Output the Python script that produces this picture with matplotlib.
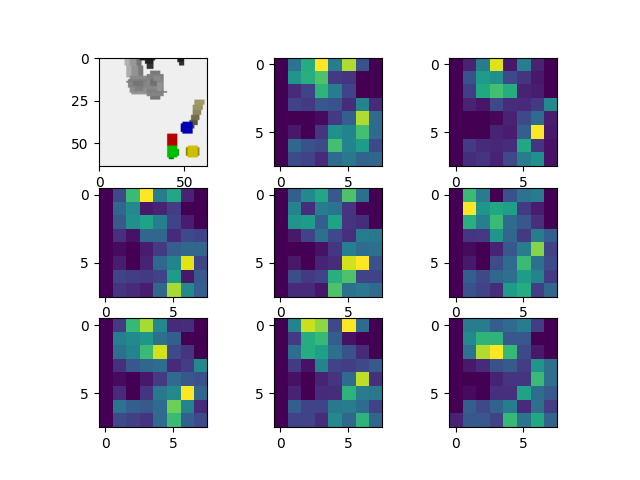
import numpy as np
import matplotlib
matplotlib.use("Agg")
import matplotlib.pyplot as plt

background = 0.94
# scene patches: row_start, row_end, col_start, col_end, (r, g, b)
g = lambda v: (v, v, v)
scene_patches = [
    # arm
    (0, 5, 15, 18, g(.70)), (0, 5, 18, 22, g(.60)), (0, 5, 22, 25, g(.46)),
    (5, 12, 16, 19, g(.68)), (5, 12, 19, 23, g(.58)), (5, 12, 23, 26, g(.48)),
    # first blob
    (11, 13, 18, 29, g(.54)), (13, 14, 17, 29, g(.50)), (14, 15, 16, 29, g(.50)),
    (15, 18, 17, 29, g(.52)), (18, 21, 18, 29, g(.56)), (21, 22, 19, 28, g(.60)),
    (14, 17, 20, 26, g(.46)), (17, 20, 21, 26, g(.50)),
    # second blob
    (8, 10, 30, 36, g(.48)), (10, 13, 28, 38, g(.50)), (13, 19, 28, 38, g(.53)),
    (19, 21, 28, 38, g(.50)), (20, 21, 38, 40, g(.50)), (21, 23, 28, 38, g(.52)),
    (23, 25, 30, 36, g(.46)),
    (13, 17, 30, 34, g(.44)), (15, 20, 34, 37, g(.58)), (11, 14, 32, 36, g(.54)),
    # dark objects
    (0, 2, 24, 33, g(.12)), (2, 4, 27, 32, g(.13)), (4, 7, 28, 32, g(.20)),
    (0, 3, 46, 50, g(.12)), (3, 5, 47, 50, g(.18)),
    # olive stick
    (25, 28, 56, 62, (.62, .60, .42)), (28, 31, 55, 61, (.60, .58, .40)),
    (31, 34, 55, 60, (.55, .53, .37)), (34, 37, 54, 59, (.45, .43, .30)),
    (37, 40, 53, 58, (.36, .34, .24)), (40, 42, 53, 56, (.30, .28, .20)),
    # blue cube
    (38, 45, 49, 55, (0, 0, .72)), (39, 44, 48, 49, (0, 0, .55)),
    # red cube
    (45, 52, 40, 46, (.72, 0, 0)),
    # green cube
    (52, 59, 40, 46, (0, .75, 0)), (54, 58, 46, 47, (0, .65, 0)),
    (59, 60, 41, 44, (0, .5, 0)),
    # yellow cube
    (52, 59, 52, 58, (.80, .75, 0)), (53, 58, 51, 52, (.55, .5, 0)),
    (53, 58, 58, 59, (.6, .55, .1)),
]

panel_1 = [[0, .38, .62, 1, .42, .88, .25, 0], [0, .52, .63, .72, .17, .15, 0, 0],
           [0, .12, .2, .65, .42, .2, 0, 0], [0, .2, .17, .27, .25, .13, .45, .12],
           [0, 0, 0, .03, .17, .3, .88, .35], [0, .07, 0, .15, .5, .45, .7, .35],
           [0, .33, .25, .22, .7, .45, .55, .22], [0, .23, .2, .12, .35, .4, .32, .33]]
panel_2 = [[0, .1, .42, .95, .07, .43, .1, 0], [0, .25, .55, .5, .22, .15, .07, 0],
           [0, .18, .6, .7, .62, .1, .08, 0], [0, .1, .06, .22, .13, .12, .17, .48],
           [0, 0, 0, .02, .1, .22, .35, .08], [0, 0, 0, .1, .08, .3, 1, .07],
           [0, .17, .12, .11, .13, .6, .15, .05], [0, .13, .15, .1, .22, .42, .5, .05]]
panel_3 = [[0, .22, .68, 1, .42, .6, .1, 0], [0, .33, .47, .07, .1, .18, 0, 0],
           [0, .28, .5, .58, .43, .2, .08, 0], [0, .14, .05, .33, .33, .12, .22, .2],
           [0, .03, 0, .08, .17, .3, .33, .33], [0, .08, 0, .1, .33, .45, .96, .2],
           [0, .2, .18, .17, .2, .55, .07, .28], [0, .15, .12, .08, .33, .87, .47, .3]]
panel_4 = [[0, .3, .47, .6, .28, .72, .37, 0], [0, .45, .13, .42, .38, .15, .01, 0],
           [0, .52, .55, .3, .58, .15, .13, 0], [0, .07, .2, .37, .22, .14, .42, .4],
           [0, 0, 0, .05, .16, .43, .35, .37], [0, .07, 0, .1, .13, .93, 1, .25],
           [0, .24, .17, .2, .63, .72, .2, .2], [0, .12, .12, .06, .72, .37, .4, .35]]
panel_5 = [[0, .68, .42, 0, .25, .38, .42, 0], [0, 1, .52, .6, .57, .17, .08, 0],
           [0, .63, .43, .68, .35, .27, .14, 0], [0, .16, .17, .52, .33, .17, .42, .3],
           [0, .03, 0, .1, .27, .42, .82, .2], [0, .07, 0, .23, .35, .68, .37, .22],
           [0, .3, .22, .33, .37, .55, .45, .17], [0, .25, .2, .13, .55, .62, .18, .33]]
panel_6 = [[0, .17, .67, .87, .47, .12, .13, 0], [0, .43, .48, .52, .37, .3, 0, 0],
           [0, .37, .45, .68, .93, .22, .15, 0], [0, .14, .27, .33, .36, .12, .18, .48],
           [0, .03, 0, .07, .17, .35, .27, .25], [0, .12, 0, .15, .4, .47, 1, .33],
           [0, .38, .3, .28, .35, .78, .45, .12], [0, .22, .19, .15, .35, .68, .3, .22]]
panel_7 = [[0, .45, .92, .83, .22, 1, .35, 0], [0, .17, .62, .67, .3, .05, 0, 0],
           [0, .36, .62, .57, .37, .25, .12, 0], [0, .17, .05, .45, .2, .18, .22, .28],
           [0, .05, 0, .1, .15, .35, .9, .14], [0, .1, 0, .12, .13, .65, .42, .4],
           [0, .3, .2, .2, .4, .42, .35, .2], [0, .2, .2, .13, .47, .33, .65, .33]]
panel_8 = [[0, .42, .42, .3, .35, .42, .18, 0], [0, .47, .65, .65, .27, .27, 0, 0],
           [0, .38, .88, 1, .67, .22, .07, 0], [0, .07, .12, .25, .28, .18, .52, .37],
           [0, 0, 0, .1, .15, .15, .68, .37], [0, .03, 0, .14, .14, .58, .36, .28],
           [0, .3, .22, .32, .42, .12, .37, .18], [.1, .27, .27, .2, .67, .38, .6, .32]]
heatmaps = [panel_1, panel_2, panel_3, panel_4, panel_5, panel_6, panel_7, panel_8]

scene = np.full((64, 64, 3), background)
for r0, r1, c0, c1, colour in scene_patches:
    scene[r0:r1, c0:c1] = colour

fig, axes = plt.subplots(3, 3, figsize=(6.4, 4.8), dpi=100)
axes = axes.ravel()
axes[0].imshow(scene)
for ax, values in zip(axes[1:], heatmaps):
    ax.imshow(np.array(values), cmap="viridis")
fig.savefig("out.png", dpi=100)
